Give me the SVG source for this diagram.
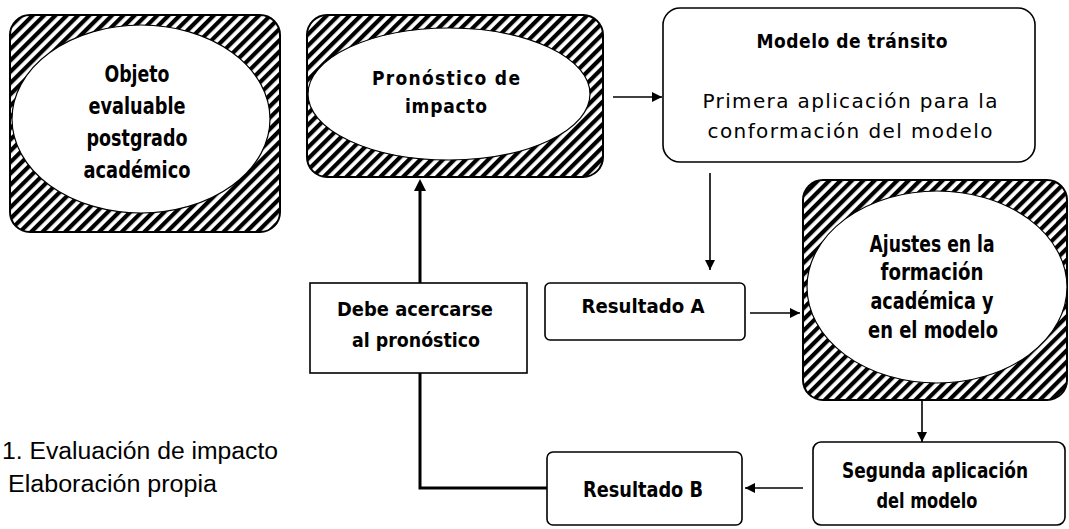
<svg xmlns="http://www.w3.org/2000/svg" width="1069" height="529" viewBox="0 0 1069 529">
<defs>
<pattern id="hatch" width="8" height="8" patternUnits="userSpaceOnUse" patternTransform="rotate(45)">
<rect width="8" height="8" fill="#fff"/>
<rect width="4.2" height="8" fill="#000"/>
</pattern>
<marker id="arr" viewBox="0 0 10 10" refX="10" refY="5" markerWidth="10" markerHeight="10" markerUnits="userSpaceOnUse" orient="auto">
<path d="M0,0 L10,5 L0,10 z" fill="#000"/>
</marker>
</defs>
<style>
.hb{fill:url(#hatch);stroke:#000;stroke-width:2}
.el{fill:#fff;stroke:#000;stroke-width:1.2}
.bx{fill:#fff;stroke:#000;stroke-width:1.6}
.b{font-family:"DejaVu Sans Condensed","DejaVu Sans",sans-serif;font-weight:bold;fill:#000;text-anchor:middle}
.r{font-family:"DejaVu Sans","Noto Sans",sans-serif;fill:#000;text-anchor:middle}
.cap{font-family:"Liberation Sans",Arial,sans-serif;fill:#000}
.ln{fill:none;stroke:#000;stroke-width:1.6}
</style>
<g id="connectors">
<line class="ln" x1="613" y1="97" x2="662" y2="97" marker-end="url(#arr)"/>
<line class="ln" x1="710" y1="173" x2="710" y2="270" marker-end="url(#arr)"/>
<line class="ln" x1="750" y1="313" x2="800" y2="313" marker-end="url(#arr)"/>
<line class="ln" x1="922" y1="400" x2="922" y2="442" marker-end="url(#arr)"/>
<line class="ln" x1="803" y1="488" x2="745" y2="488" marker-end="url(#arr)"/>
<polyline fill="none" stroke="#000" stroke-width="3" points="547,488 420,488 420,190"/>
<path d="M414,191 L420,179 L426,191 z" fill="#000"/>
</g>
<g id="objeto">
<rect class="hb" x="10" y="15" width="270" height="217" rx="20"/>
<ellipse class="el" cx="141" cy="119" rx="129" ry="94"/>
<text class="b" font-size="23" x="137" y="82" textLength="65" lengthAdjust="spacingAndGlyphs">Objeto</text>
<text class="b" font-size="23" x="137" y="114" textLength="97" lengthAdjust="spacingAndGlyphs">evaluable</text>
<text class="b" font-size="23" x="137" y="146" textLength="101" lengthAdjust="spacingAndGlyphs">postgrado</text>
<text class="b" font-size="23" x="137" y="178" textLength="107" lengthAdjust="spacingAndGlyphs">académico</text>
</g>
<g id="pronostico">
<rect class="hb" x="307" y="15" width="296" height="162" rx="20"/>
<ellipse class="el" cx="449" cy="94" rx="141" ry="66"/>
<text class="b" font-size="19" x="446" y="85" textLength="148" lengthAdjust="spacing">Pronóstico  de</text>
<text class="b" font-size="19" x="446" y="113" textLength="82" lengthAdjust="spacing">impacto</text>
</g>
<g id="modelo">
<rect class="bx" x="663" y="8" width="372" height="154" rx="17"/>
<text class="b" font-size="19" x="852" y="48" textLength="191" lengthAdjust="spacing">Modelo  de tránsito</text>
<text class="r" font-size="20" x="850" y="108" textLength="295" lengthAdjust="spacing">Primera aplicación para la</text>
<text class="r" font-size="20" x="850" y="138" textLength="285" lengthAdjust="spacing">conformación del modelo</text>
</g>
<g id="ajustes">
<rect class="hb" x="803" y="180" width="264" height="220" rx="20"/>
<ellipse class="el" cx="937" cy="287" rx="130" ry="96"/>
<text class="b" font-size="23" x="932" y="252" textLength="125" lengthAdjust="spacingAndGlyphs">Ajustes en la</text>
<text class="b" font-size="23" x="932" y="280" textLength="103" lengthAdjust="spacingAndGlyphs">formación</text>
<text class="b" font-size="23" x="932" y="309" textLength="123" lengthAdjust="spacingAndGlyphs">académica y</text>
<text class="b" font-size="23" x="933" y="338" textLength="130" lengthAdjust="spacingAndGlyphs">en el modelo</text>
</g>
<g id="debe">
<rect class="bx" x="310" y="283" width="217" height="90"/>
<text class="b" font-size="19" x="415" y="316" textLength="156" lengthAdjust="spacingAndGlyphs">Debe acercarse</text>
<text class="b" font-size="19" x="416" y="347" textLength="128" lengthAdjust="spacingAndGlyphs">al pronóstico</text>
</g>
<g id="resultadoA">
<rect class="bx" x="545" y="283" width="200" height="57" rx="5"/>
<text class="b" font-size="19" x="643" y="313" textLength="123" lengthAdjust="spacingAndGlyphs">Resultado A</text>
</g>
<g id="segunda">
<rect class="bx" x="813" y="442" width="252" height="83" rx="8"/>
<text class="b" font-size="21" x="935" y="478" textLength="186" lengthAdjust="spacingAndGlyphs">Segunda aplicación</text>
<text class="b" font-size="21" x="927" y="508" textLength="101" lengthAdjust="spacingAndGlyphs">del modelo</text>
</g>
<g id="resultadoB">
<rect class="bx" x="547" y="452" width="195" height="73" rx="6"/>
<text class="b" font-size="21" x="643" y="497" textLength="120" lengthAdjust="spacingAndGlyphs">Resultado B</text>
</g>
<g id="caption">
<text class="cap" font-size="23" x="2" y="459" textLength="276" lengthAdjust="spacingAndGlyphs">1. Evaluación de impacto</text>
<text class="cap" font-size="23" x="8" y="492" textLength="209" lengthAdjust="spacingAndGlyphs">Elaboración propia</text>
</g>
</svg>
